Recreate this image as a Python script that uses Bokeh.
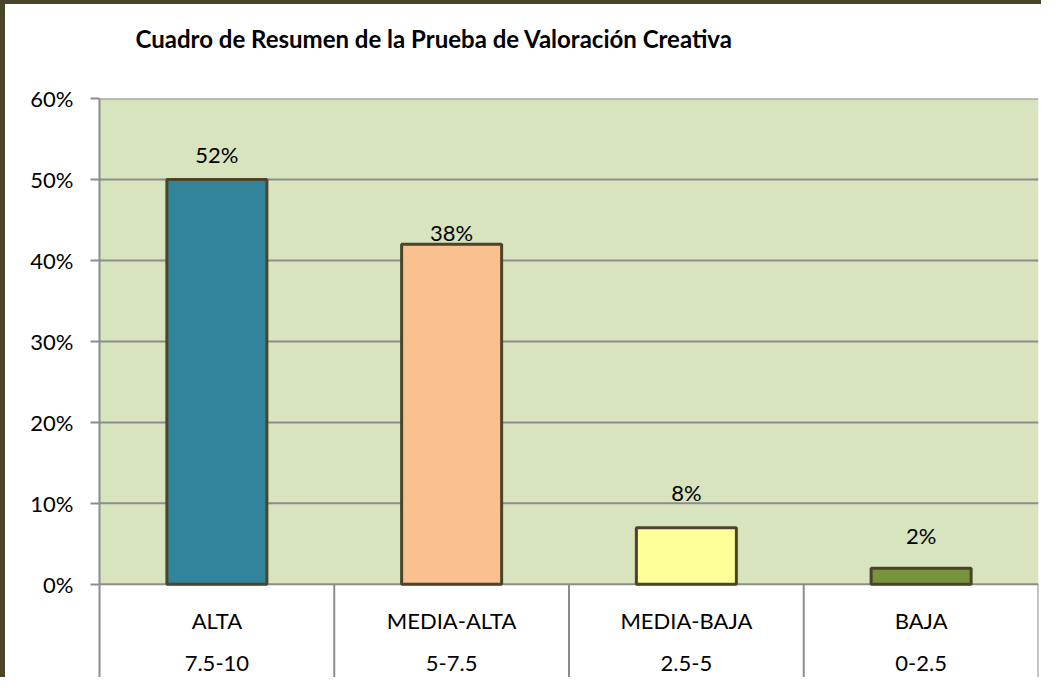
from bokeh.plotting import figure
from bokeh.models import Range1d, FixedTicker, PrintfTickFormatter, Title
from bokeh.core.properties import value
from bokeh.embed import file_html
from bokeh.resources import INLINE

# ---- data ----
categories = ["ALTA", "MEDIA-ALTA", "MEDIA-BAJA", "BAJA"]
score_ranges = ["7.5-10", "5-7.5", "2.5-5", "0-2.5"]
bar_values = [50, 42, 7, 2]
label_texts = ["52%", "38%", "8%", "2%"]
y_ticks = [0, 10, 20, 30, 40, 50, 60]
title_text = "Cuadro de Resumen de la Prueba de Valoración Creativa"

# ---- styles ----
bar_colors = ["#31849b", "#fac090", "#ffff99", "#77933c"]
label_offsets_px = [-25, -12, -35, -33]
FONT = value("Lato")
DARK = "#4a452a"
GRID = "#8c8c8c"

n = len(categories)
xs = [i + 0.5 for i in range(n)]
y_bottom = -12.0

p = figure(width=1041, height=677, output_backend="svg", toolbar_location=None,
           x_axis_type=None, x_range=Range1d(0, n), y_range=Range1d(y_bottom, y_ticks[-1]),
           min_border_left=94, min_border_top=94, min_border_right=8, min_border_bottom=0)
p.styles = {"border-left": f"5px solid {DARK}", "border-top": f"4px solid {DARK}"}
p.outline_line_color = None
p.background_fill_color = "white"
p.border_fill_color = "white"
p.ygrid.visible = False

p.title.text = title_text
p.title.align = "left"
p.title.offset = 36
p.title.standoff = 34
p.title.text_font = "Lato"
p.title.text_font_style = "bold"
p.title.text_font_size = "24px"
p.title.text_color = "black"

# spacer between title and plot area
p.add_layout(Title(text=" ", text_font_size="1px", standoff=26), "above")

# plot area background
p.quad(left=0, right=n, bottom=0, top=y_ticks[-1], fill_color="#d7e4bd", line_color=None)
# horizontal gridlines
p.segment(x0=[0] * len(y_ticks), x1=[n] * len(y_ticks), y0=y_ticks, y1=y_ticks,
          line_color=GRID, line_width=2)
# category separators below axis
p.segment(x0=list(range(1, n + 1)), x1=list(range(1, n + 1)),
          y0=[y_bottom] * n, y1=[0] * n, line_color=GRID, line_width=2)

p.vbar(x=xs, top=bar_values, width=0.426, bottom=0, fill_color=bar_colors,
       line_color=DARK, line_width=3)

p.text(x=xs, y=bar_values, text=label_texts, y_offset=label_offsets_px,
       text_align="center", text_baseline="middle", text_font=FONT,
       text_font_size="22px", text_color="black")

p.text(x=xs, y=[0] * n, text=categories, y_offset=36, text_align="center",
       text_baseline="middle", text_font=FONT, text_font_size="22px", text_color="black")
p.text(x=xs, y=[0] * n, text=score_ranges, y_offset=79, text_align="center",
       text_baseline="middle", text_font=FONT, text_font_size="22px", text_color="black")

ax = p.yaxis[0]
ax.ticker = FixedTicker(ticks=y_ticks)
ax.formatter = PrintfTickFormatter(format="%d%%")
ax.axis_line_color = GRID
ax.axis_line_width = 2
ax.major_tick_line_color = GRID
ax.major_tick_line_width = 2
ax.major_tick_out = 9
ax.major_tick_in = 0
ax.minor_tick_out = 0
ax.minor_tick_in = 0
ax.major_label_text_font = "Lato"
ax.major_label_text_font_size = "22px"
ax.major_label_text_color = "black"
ax.major_label_standoff = 17

open("out.html", "w").write(file_html(p, INLINE))
